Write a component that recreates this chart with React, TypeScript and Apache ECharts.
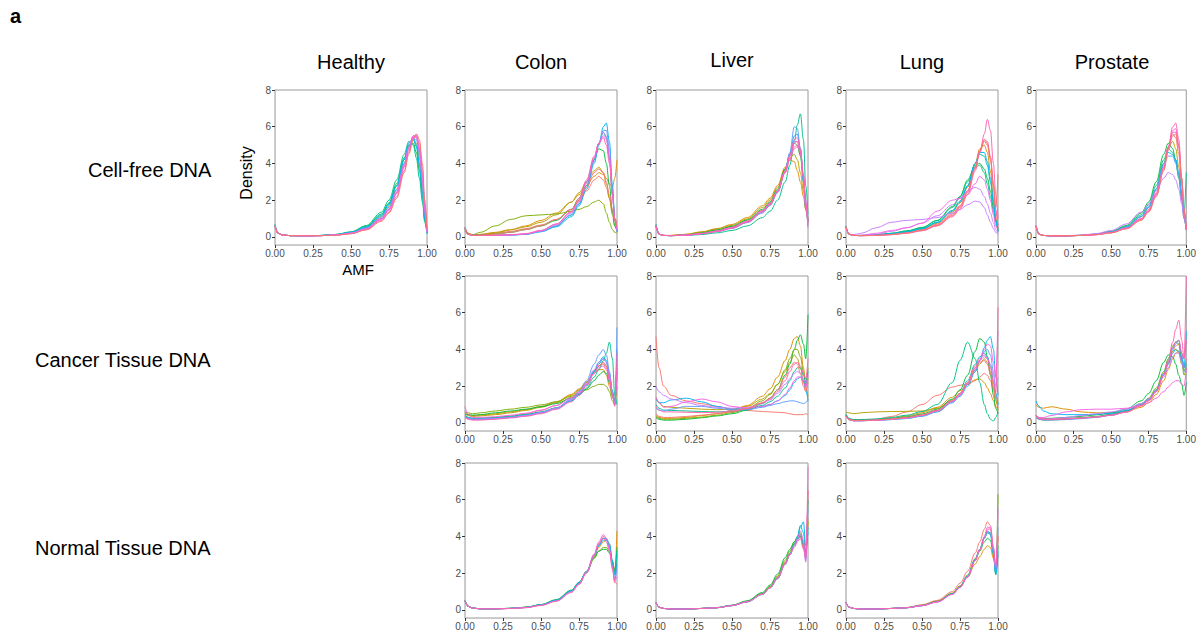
import React, { useEffect, useRef } from "react";
import * as echarts from "echarts";

// Shared AMF grid for all density curves
const AMF = [0, 0.02, 0.05, 0.1, 0.2, 0.3, 0.4, 0.5, 0.6, 0.7, 0.75, 0.8, 0.85, 0.88, 0.91, 0.93, 0.95, 0.97, 0.985, 1.0];

const COLUMNS = ["Healthy", "Colon", "Liver", "Lung", "Prostate"];
const ROWS = ["Cell-free DNA", "Cancer Tissue DNA", "Normal Tissue DNA"];
const X_TICKS = [0, 0.25, 0.5, 0.75, 1];
const Y_TICKS = [0, 2, 4, 6, 8];

// Row 1: cell-free DNA
const healthyCfDNA = [
  [0.55,0.2,0.1,0.07,0.06,0.07,0.1,0.2,0.45,1.0,1.5,2.4,3.8,4.7,5.4,5.5,4.8,3.2,1.5,0.3],
  [0.6,0.2,0.1,0.07,0.06,0.07,0.11,0.22,0.5,1.1,1.65,2.6,4.0,4.9,5.3,5.1,4.3,2.8,1.2,0.3],
  [0.6,0.2,0.1,0.07,0.06,0.08,0.13,0.26,0.58,1.25,1.85,2.9,4.3,5.0,5.1,4.6,3.6,2.2,0.9,0.2],
  [0.7,0.2,0.1,0.07,0.06,0.08,0.14,0.28,0.62,1.35,2.0,3.1,4.5,5.2,5.0,4.3,3.2,1.9,0.8,0.2],
  [0.65,0.2,0.1,0.07,0.06,0.08,0.13,0.25,0.55,1.2,1.8,2.8,4.2,5.0,5.3,4.9,3.9,2.4,1.0,0.2],
  [0.6,0.2,0.1,0.07,0.06,0.07,0.12,0.24,0.52,1.15,1.75,2.75,4.2,5.1,5.4,5.0,4.0,2.5,1.0,0.2],
  [0.6,0.2,0.1,0.07,0.06,0.07,0.11,0.22,0.48,1.05,1.6,2.55,4.0,4.9,5.4,5.3,4.5,2.9,1.2,0.2],
  [0.6,0.2,0.1,0.07,0.06,0.07,0.1,0.2,0.45,1.0,1.5,2.45,3.9,4.9,5.5,5.4,4.7,3.1,1.4,0.3],
  [0.6,0.2,0.1,0.07,0.06,0.07,0.1,0.19,0.42,0.95,1.45,2.35,3.8,4.8,5.5,5.5,4.9,3.4,1.6,0.3],
  [0.6,0.2,0.1,0.07,0.06,0.07,0.1,0.18,0.4,0.9,1.35,2.2,3.6,4.6,5.4,5.6,5.1,3.7,1.8,0.4],
  [0.6,0.2,0.1,0.07,0.06,0.07,0.1,0.2,0.44,0.98,1.5,2.4,3.85,4.85,5.5,5.45,4.8,3.3,1.5,0.3],
  [0.6,0.2,0.1,0.07,0.06,0.07,0.09,0.17,0.38,0.85,1.3,2.1,3.5,4.5,5.3,5.6,5.3,4.0,2.0,0.4],
];
const colonCfDNA = [
  [0.5,0.2,0.1,0.12,0.2,0.3,0.45,0.65,0.95,1.5,1.95,2.5,3.1,3.3,3.1,2.7,2.1,1.4,1.0,0.8],
  [0.4,0.2,0.12,0.14,0.25,0.4,0.6,0.9,1.3,1.9,2.3,2.8,3.3,3.5,3.4,3.2,2.9,2.7,3.2,4.2],
  [0.4,0.2,0.1,0.13,0.22,0.38,0.55,0.8,1.2,1.9,2.4,3.0,3.6,3.8,3.5,2.9,2.1,1.2,0.6,0.3],
  [0.3,0.15,0.12,0.25,0.6,0.95,1.15,1.2,1.25,1.4,1.5,1.65,1.9,2.0,1.8,1.3,0.8,0.4,0.25,0.2],
  [0.4,0.15,0.1,0.1,0.15,0.25,0.4,0.6,0.9,1.5,2.1,3.0,4.2,4.8,4.7,4.0,2.8,1.4,0.6,0.3],
  [0.5,0.15,0.08,0.08,0.08,0.1,0.15,0.3,0.6,1.2,1.8,2.8,4.2,5.1,5.7,5.4,4.3,2.4,1.0,0.3],
  [0.5,0.15,0.08,0.08,0.08,0.1,0.14,0.28,0.55,1.1,1.7,2.6,4.0,5.0,6.0,6.2,5.2,2.8,1.0,0.3],
  [0.5,0.15,0.08,0.08,0.08,0.1,0.15,0.3,0.6,1.2,1.8,2.7,4.1,5.0,5.8,5.8,4.8,2.6,1.0,0.3],
  [0.5,0.15,0.08,0.08,0.08,0.1,0.16,0.32,0.65,1.3,1.9,2.9,4.3,5.1,5.7,5.5,4.4,2.3,0.9,0.3],
  [0.5,0.15,0.08,0.08,0.09,0.11,0.17,0.34,0.7,1.35,2.0,3.0,4.3,5.1,5.5,5.3,4.3,2.3,0.9,0.4],
  [0.5,0.15,0.08,0.08,0.09,0.12,0.18,0.36,0.7,1.4,2.1,3.1,4.4,5.1,5.4,5.0,4.0,2.3,1.0,0.5],
  [0.5,0.15,0.1,0.1,0.15,0.25,0.4,0.6,0.95,1.5,2.0,2.7,3.5,3.7,3.5,3.0,2.3,1.5,0.9,0.6],
];
const liverCfDNA = [
  [0.6,0.15,0.08,0.07,0.1,0.2,0.35,0.55,0.9,1.45,1.85,2.5,3.5,4.2,4.8,4.9,4.5,3.2,1.8,0.8],
  [0.6,0.15,0.08,0.08,0.15,0.28,0.45,0.68,1.05,1.7,2.1,2.8,3.8,4.2,4.1,3.6,3.0,2.2,1.5,1.0],
  [0.6,0.15,0.08,0.08,0.14,0.26,0.42,0.63,0.98,1.6,2.0,2.7,3.7,4.3,4.5,4.2,3.5,2.5,1.5,0.8],
  [0.6,0.15,0.08,0.07,0.11,0.22,0.38,0.58,0.92,1.5,1.9,2.6,3.7,4.5,5.1,5.0,4.4,3.0,1.7,0.9],
  [0.7,0.15,0.08,0.07,0.08,0.13,0.22,0.35,0.6,1.05,1.4,2.0,3.0,3.9,5.2,6.1,6.7,5.3,2.8,1.2],
  [0.6,0.15,0.08,0.07,0.09,0.17,0.3,0.48,0.8,1.35,1.75,2.45,3.6,4.5,5.5,5.6,4.8,3.2,1.7,0.8],
  [0.6,0.15,0.08,0.07,0.09,0.17,0.29,0.46,0.78,1.3,1.7,2.4,3.6,4.6,6.0,5.9,4.8,3.0,1.5,0.6],
  [0.6,0.15,0.08,0.07,0.1,0.18,0.31,0.5,0.82,1.4,1.8,2.5,3.6,4.4,5.2,5.2,4.6,3.2,1.8,0.8],
  [0.6,0.15,0.08,0.07,0.1,0.19,0.32,0.52,0.85,1.42,1.82,2.5,3.5,4.2,4.9,5.0,4.6,3.4,2.0,0.9],
  [0.6,0.15,0.08,0.07,0.1,0.18,0.31,0.5,0.83,1.4,1.8,2.5,3.6,4.4,5.1,5.2,4.7,3.3,1.8,0.7],
  [0.6,0.15,0.08,0.07,0.09,0.17,0.29,0.47,0.8,1.35,1.75,2.45,3.55,4.4,5.3,5.4,4.8,3.3,1.7,0.5],
];
const lungCfDNA = [
  [0.55,0.15,0.08,0.07,0.09,0.15,0.25,0.4,0.7,1.25,1.7,2.5,3.8,4.6,5.2,5.0,4.2,2.8,1.4,0.5],
  [0.55,0.15,0.08,0.07,0.09,0.16,0.27,0.43,0.75,1.35,1.85,2.7,4.0,4.8,5.0,4.6,3.6,2.2,1.0,0.4],
  [0.55,0.15,0.08,0.08,0.12,0.2,0.33,0.52,0.9,1.65,2.2,3.1,3.9,4.0,3.7,3.2,2.5,1.6,0.9,0.4],
  [0.6,0.15,0.08,0.08,0.12,0.2,0.32,0.5,0.88,1.6,2.15,3.0,3.8,3.9,3.5,2.9,2.2,1.4,0.8,0.3],
  [0.55,0.15,0.08,0.07,0.1,0.17,0.28,0.45,0.8,1.45,1.95,2.8,4.0,4.5,4.4,3.9,3.0,1.8,0.9,0.3],
  [0.55,0.15,0.08,0.07,0.1,0.17,0.28,0.45,0.78,1.4,1.9,2.75,4.0,4.6,4.6,4.1,3.2,2.0,0.9,0.3],
  [0.5,0.15,0.12,0.2,0.5,0.8,0.9,0.95,1.05,1.3,1.5,1.75,1.95,1.9,1.6,1.2,0.8,0.45,0.25,0.15],
  [0.5,0.15,0.08,0.08,0.15,0.3,0.5,0.75,1.15,1.75,2.1,2.5,2.7,2.6,2.2,1.8,1.3,0.8,0.4,0.2],
  [0.5,0.15,0.08,0.09,0.2,0.35,0.5,0.75,1.4,2.0,2.1,2.3,2.9,3.3,3.1,2.6,2.0,1.2,0.6,0.3],
  [0.55,0.15,0.08,0.07,0.08,0.13,0.22,0.36,0.65,1.2,1.65,2.5,3.8,4.7,5.3,5.2,4.4,2.9,1.5,0.6],
  [0.55,0.15,0.08,0.07,0.08,0.12,0.2,0.33,0.6,1.1,1.5,2.3,3.6,4.6,5.6,6.4,5.8,4.0,2.3,1.0],
  [0.55,0.15,0.08,0.07,0.08,0.13,0.21,0.35,0.63,1.15,1.6,2.4,3.7,4.7,5.3,5.1,4.3,2.8,1.6,3.4],
];
const prostateCfDNA = [
  [0.6,0.15,0.08,0.06,0.06,0.08,0.13,0.25,0.5,1.0,1.5,2.4,3.8,4.8,5.6,5.4,4.5,2.8,1.3,0.4],
  [0.6,0.15,0.08,0.06,0.06,0.08,0.14,0.27,0.55,1.1,1.6,2.6,4.0,4.9,5.2,4.8,3.8,2.3,1.1,0.4],
  [0.6,0.15,0.08,0.06,0.06,0.09,0.16,0.3,0.62,1.3,1.9,3.0,4.5,5.1,4.8,4.1,3.2,2.0,1.0,0.4],
  [0.6,0.15,0.08,0.06,0.06,0.09,0.15,0.28,0.58,1.2,1.75,2.8,4.2,4.8,4.6,4.2,3.4,2.2,1.2,3.5],
  [0.6,0.15,0.08,0.06,0.06,0.08,0.14,0.26,0.53,1.1,1.6,2.6,4.0,4.6,4.5,4.2,3.5,2.4,1.2,0.4],
  [0.6,0.15,0.08,0.06,0.06,0.08,0.14,0.27,0.55,1.12,1.65,2.6,3.9,4.4,4.4,4.0,3.3,2.2,1.1,0.4],
  [0.6,0.15,0.08,0.06,0.07,0.1,0.18,0.35,0.7,1.35,1.8,2.5,3.2,3.5,3.4,3.1,2.6,1.8,1.0,0.4],
  [0.6,0.15,0.08,0.06,0.06,0.08,0.13,0.24,0.48,0.98,1.45,2.35,3.8,4.9,5.8,5.9,5.0,3.0,1.4,0.4],
  [0.6,0.15,0.08,0.06,0.06,0.08,0.12,0.22,0.45,0.92,1.38,2.25,3.7,4.9,6.0,6.2,5.3,3.2,1.5,0.4],
  [0.6,0.15,0.08,0.06,0.06,0.08,0.12,0.23,0.46,0.95,1.4,2.3,3.7,4.8,5.7,5.7,4.9,3.1,1.4,0.4],
  [0.6,0.15,0.08,0.06,0.06,0.08,0.12,0.22,0.44,0.9,1.35,2.2,3.6,4.7,5.5,5.6,4.9,3.2,1.5,0.4],
];

// Row 2: cancer tissue DNA
const colonCancer = [
  [0.4,0.3,0.25,0.25,0.3,0.38,0.5,0.68,0.95,1.4,1.75,2.2,2.8,3.1,3.2,3.0,2.4,1.6,1.1,3.0],
  [0.6,0.45,0.4,0.42,0.5,0.6,0.72,0.9,1.15,1.55,1.85,2.25,2.7,2.9,2.9,2.6,2.0,1.4,1.2,2.5],
  [0.5,0.4,0.35,0.38,0.45,0.55,0.68,0.85,1.1,1.5,1.8,2.2,2.8,3.1,3.3,3.1,2.5,1.7,1.2,3.5],
  [0.6,0.55,0.5,0.55,0.65,0.75,0.85,0.98,1.15,1.45,1.6,1.8,2.0,2.1,2.1,2.0,1.7,1.2,1.0,2.0],
  [0.5,0.45,0.42,0.45,0.55,0.65,0.75,0.88,1.05,1.35,1.55,1.85,2.3,2.6,2.8,2.7,2.2,1.5,1.1,2.8],
  [0.4,0.3,0.25,0.26,0.3,0.37,0.46,0.6,0.82,1.2,1.5,1.9,2.5,2.9,3.4,3.8,4.4,3.5,1.5,1.0],
  [0.4,0.3,0.22,0.22,0.26,0.33,0.43,0.58,0.82,1.25,1.6,2.1,2.8,3.2,3.5,3.3,2.6,1.6,1.0,4.0],
  [0.35,0.25,0.2,0.2,0.24,0.3,0.4,0.55,0.78,1.2,1.55,2.05,2.8,3.3,3.6,3.4,2.7,1.7,1.1,3.2],
  [0.3,0.22,0.18,0.18,0.22,0.29,0.38,0.54,0.8,1.3,1.7,2.3,3.2,3.7,4.0,3.7,2.8,1.6,1.0,5.2],
  [0.35,0.25,0.2,0.2,0.23,0.3,0.4,0.56,0.8,1.25,1.6,2.15,2.9,3.3,3.5,3.3,2.6,1.6,1.1,3.0],
  [0.9,0.45,0.3,0.3,0.34,0.42,0.53,0.7,0.95,1.35,1.65,2.1,2.7,3.0,3.1,2.9,2.3,1.5,1.0,2.5],
  [0.3,0.2,0.15,0.15,0.2,0.27,0.36,0.5,0.74,1.15,1.5,2.0,2.7,3.1,3.3,3.1,2.4,1.5,0.9,3.8],
];
const liverCancer = [
  [4.7,3.0,2.0,1.5,1.2,1.05,0.9,0.75,0.68,0.62,0.6,0.58,0.55,0.5,0.45,0.45,0.45,0.45,0.5,0.45],
  [0.4,0.3,0.25,0.25,0.3,0.4,0.5,0.68,0.95,1.45,1.85,2.5,3.4,4.0,4.6,4.7,4.2,3.0,2.0,1.4],
  [1.4,1.1,0.9,0.85,0.8,0.75,0.72,0.75,0.9,1.3,1.6,2.1,2.8,3.3,3.7,3.5,3.0,2.3,2.0,2.4],
  [0.3,0.2,0.15,0.15,0.2,0.28,0.38,0.5,0.7,1.05,1.35,1.8,2.6,3.2,4.0,4.5,4.8,4.3,3.5,5.9],
  [0.35,0.25,0.2,0.2,0.25,0.32,0.42,0.56,0.78,1.2,1.55,2.1,2.9,3.5,4.0,4.0,3.6,2.8,2.2,3.0],
  [1.0,0.8,0.7,0.68,0.65,0.62,0.6,0.62,0.72,0.95,1.15,1.45,1.9,2.3,2.8,3.0,3.0,2.6,2.1,2.8],
  [1.3,1.1,1.1,1.25,1.35,1.15,0.9,0.75,0.78,0.9,1.0,1.2,1.5,1.8,2.2,2.4,2.5,2.3,1.8,1.2],
  [0.8,0.7,0.65,0.75,0.9,0.9,0.8,0.7,0.72,0.85,0.95,1.05,1.15,1.2,1.2,1.15,1.1,1.05,1.1,1.3],
  [2.0,1.7,1.5,1.3,1.1,0.95,0.85,0.8,0.85,1.05,1.25,1.6,2.1,2.4,2.7,2.8,2.7,2.4,2.2,2.5],
  [1.4,1.1,0.85,0.9,1.15,1.3,1.15,0.9,0.8,0.9,1.0,1.2,1.55,1.9,2.3,2.5,2.5,2.2,1.9,2.6],
  [0.9,0.7,0.6,0.6,0.58,0.56,0.58,0.65,0.8,1.1,1.3,1.7,2.3,2.8,3.2,3.3,3.1,2.7,2.4,3.5],
  [0.5,0.35,0.3,0.3,0.35,0.42,0.5,0.6,0.78,1.1,1.35,1.8,2.5,3.0,3.3,3.2,2.7,2.0,1.7,2.2],
];
const lungCancer = [
  [0.4,0.2,0.15,0.15,0.2,0.35,0.6,1.0,1.5,1.95,2.05,2.1,2.3,2.5,2.7,2.6,2.3,1.8,1.2,0.8],
  [0.4,0.2,0.15,0.15,0.18,0.25,0.38,0.55,0.85,1.4,1.75,2.1,2.35,2.4,2.2,1.9,1.6,1.2,0.9,0.7],
  [0.6,0.55,0.5,0.55,0.6,0.62,0.63,0.65,0.8,1.25,1.6,2.1,2.8,3.2,3.5,3.3,2.8,2.0,1.3,0.7],
  [0.5,0.25,0.18,0.18,0.22,0.3,0.42,0.62,1.0,2.2,3.4,4.4,3.5,2.2,1.0,0.5,0.2,0.1,0.3,0.6],
  [0.4,0.2,0.15,0.15,0.18,0.24,0.33,0.48,0.75,1.3,1.8,2.6,3.9,4.6,4.4,3.6,2.6,1.5,0.8,0.5],
  [0.4,0.2,0.15,0.15,0.17,0.22,0.3,0.43,0.68,1.2,1.6,2.3,3.2,3.6,3.8,3.6,3.1,2.3,1.6,1.0],
  [0.35,0.18,0.12,0.12,0.14,0.18,0.24,0.36,0.6,1.1,1.45,2.0,2.8,3.4,4.1,4.5,4.7,4.0,2.5,1.5],
  [0.35,0.18,0.12,0.12,0.14,0.19,0.26,0.38,0.62,1.12,1.5,2.1,2.9,3.4,3.9,4.0,3.7,2.8,1.6,1.0],
  [0.35,0.18,0.12,0.12,0.15,0.2,0.28,0.41,0.66,1.18,1.55,2.15,3.0,3.4,3.6,3.5,3.2,2.6,2.0,2.5],
  [0.35,0.18,0.12,0.12,0.15,0.2,0.27,0.4,0.65,1.15,1.5,2.1,2.9,3.4,4.0,4.3,4.2,3.3,2.5,5.0],
  [0.35,0.18,0.12,0.12,0.15,0.2,0.28,0.41,0.67,1.2,1.6,2.2,3.1,3.5,3.7,3.5,3.0,2.2,1.6,6.3],
  [0.4,0.2,0.14,0.14,0.16,0.22,0.3,0.44,0.7,1.22,1.6,2.2,3.0,3.3,3.4,3.2,2.7,1.9,1.4,1.2],
];
const prostateCancer = [
  [0.4,0.25,0.2,0.2,0.22,0.26,0.32,0.42,0.6,0.95,1.25,1.75,2.6,3.2,3.9,4.2,4.3,3.5,3.0,3.5],
  [1.0,0.85,0.8,0.88,0.75,0.6,0.55,0.55,0.62,0.85,1.1,1.55,2.3,2.9,3.5,3.8,3.9,3.4,3.0,3.3],
  [0.35,0.25,0.2,0.2,0.22,0.27,0.34,0.45,0.64,1.0,1.3,1.8,2.7,3.3,3.9,4.0,3.8,3.2,2.9,3.0],
  [0.4,0.3,0.25,0.25,0.3,0.36,0.44,0.55,0.75,1.2,1.6,2.3,3.3,3.7,3.6,3.2,2.6,2.1,1.5,2.2],
  [0.3,0.2,0.15,0.16,0.2,0.26,0.34,0.46,0.66,1.05,1.35,1.9,2.8,3.5,4.2,4.4,4.3,3.3,2.6,3.0],
  [0.35,0.25,0.2,0.2,0.23,0.28,0.35,0.46,0.65,1.02,1.3,1.8,2.7,3.4,4.1,4.4,4.5,3.6,2.8,3.2],
  [1.2,0.9,0.65,0.5,0.45,0.45,0.47,0.52,0.68,1.0,1.28,1.75,2.6,3.2,3.8,4.0,3.9,3.5,3.0,5.0],
  [0.3,0.2,0.15,0.15,0.18,0.23,0.3,0.41,0.6,0.98,1.28,1.78,2.7,3.3,4.0,4.3,4.5,3.8,3.0,3.3],
  [0.35,0.25,0.2,0.22,0.3,0.4,0.5,0.6,0.75,1.05,1.3,1.75,2.5,3.0,3.6,3.8,3.8,3.3,2.8,2.9],
  [0.4,0.3,0.3,0.4,0.6,0.72,0.75,0.75,0.8,0.95,1.1,1.35,1.7,1.95,2.2,2.3,2.3,2.1,2.0,3.0],
  [0.4,0.25,0.2,0.2,0.22,0.26,0.32,0.42,0.58,0.92,1.2,1.7,2.6,3.4,4.4,5.1,5.6,4.5,3.5,4.5],
  [0.4,0.25,0.2,0.2,0.22,0.27,0.33,0.43,0.6,0.95,1.22,1.7,2.6,3.3,4.1,4.4,4.5,3.8,3.5,8.0],
];

// Row 3: normal tissue DNA
const colonNormal = [
  [0.5,0.2,0.1,0.06,0.06,0.08,0.13,0.26,0.5,1.0,1.45,2.1,3.0,3.6,4.0,3.9,3.4,2.4,1.5,3.0],
  [0.5,0.2,0.1,0.06,0.06,0.08,0.14,0.27,0.52,1.02,1.45,2.05,2.9,3.4,3.7,3.8,3.6,2.6,2.0,4.3],
  [0.5,0.2,0.1,0.06,0.06,0.09,0.15,0.28,0.55,1.05,1.48,2.05,2.8,3.2,3.4,3.4,3.2,2.6,2.2,3.0],
  [0.5,0.2,0.1,0.06,0.06,0.09,0.15,0.29,0.56,1.08,1.5,2.1,2.85,3.2,3.3,3.3,3.1,2.6,2.1,3.4],
  [0.5,0.2,0.1,0.06,0.06,0.09,0.14,0.28,0.54,1.05,1.5,2.1,2.95,3.5,3.8,3.8,3.5,2.6,1.9,3.2],
  [0.5,0.2,0.1,0.06,0.06,0.08,0.14,0.27,0.52,1.02,1.45,2.05,2.95,3.5,3.9,3.9,3.6,2.7,1.9,2.5],
  [0.5,0.2,0.1,0.06,0.06,0.08,0.13,0.26,0.5,1.0,1.42,2.05,2.95,3.55,3.9,3.8,3.4,2.4,1.7,2.2],
  [0.5,0.2,0.1,0.06,0.06,0.08,0.13,0.25,0.48,0.98,1.42,2.08,3.05,3.7,4.1,3.9,3.3,2.3,1.6,1.8],
  [0.5,0.2,0.1,0.06,0.06,0.08,0.12,0.24,0.47,0.95,1.38,2.0,2.95,3.6,3.9,3.7,3.2,2.2,1.5,1.4],
];
const liverNormal = [
  [0.4,0.15,0.08,0.05,0.05,0.08,0.12,0.24,0.45,0.85,1.2,1.7,2.5,3.0,3.5,3.8,4.0,3.6,3.0,6.5],
  [0.4,0.15,0.08,0.05,0.05,0.08,0.12,0.24,0.46,0.88,1.25,1.8,2.6,3.1,3.6,3.9,4.1,3.4,2.8,5.0],
  [0.4,0.15,0.08,0.05,0.05,0.08,0.12,0.25,0.47,0.9,1.28,1.85,2.7,3.2,3.7,4.0,4.2,3.6,3.2,4.8],
  [0.4,0.15,0.08,0.05,0.05,0.08,0.13,0.26,0.5,0.95,1.35,1.95,2.85,3.3,3.7,3.9,4.0,3.5,3.0,6.0],
  [0.4,0.15,0.08,0.05,0.05,0.08,0.12,0.24,0.45,0.86,1.22,1.75,2.55,3.05,3.6,4.0,4.6,4.2,3.0,4.5],
  [0.4,0.15,0.08,0.05,0.05,0.08,0.12,0.23,0.44,0.84,1.2,1.7,2.5,3.0,3.5,3.9,4.5,4.8,3.5,4.2],
  [0.4,0.15,0.08,0.05,0.05,0.08,0.12,0.23,0.44,0.84,1.2,1.72,2.5,3.0,3.5,3.8,4.1,3.6,2.7,5.5],
  [0.4,0.15,0.08,0.05,0.05,0.08,0.12,0.24,0.45,0.86,1.22,1.75,2.55,3.0,3.5,3.9,4.3,3.8,2.6,7.8],
  [0.4,0.15,0.08,0.05,0.05,0.08,0.12,0.23,0.44,0.85,1.2,1.72,2.5,3.0,3.4,3.7,3.9,3.3,2.9,6.5],
];
const lungNormal = [
  [0.4,0.15,0.08,0.05,0.05,0.08,0.13,0.28,0.52,1.0,1.45,2.1,3.1,3.7,4.4,4.8,4.6,3.4,2.2,3.0],
  [0.4,0.15,0.08,0.05,0.05,0.08,0.13,0.26,0.48,0.92,1.3,1.8,2.5,2.9,3.3,3.5,3.4,2.8,2.3,4.0],
  [0.4,0.15,0.08,0.05,0.05,0.08,0.12,0.25,0.47,0.9,1.3,1.9,2.8,3.3,3.9,4.2,4.2,3.2,2.0,6.3],
  [0.4,0.15,0.08,0.05,0.05,0.08,0.12,0.24,0.45,0.88,1.26,1.82,2.7,3.2,3.7,3.9,3.8,3.0,2.0,3.5],
  [0.4,0.15,0.08,0.05,0.05,0.08,0.12,0.24,0.45,0.88,1.27,1.85,2.75,3.3,3.9,4.2,4.1,3.1,1.9,3.0],
  [0.4,0.15,0.08,0.05,0.05,0.08,0.12,0.23,0.44,0.86,1.25,1.83,2.75,3.3,3.95,4.3,4.2,3.2,2.0,3.2],
  [0.4,0.15,0.08,0.05,0.05,0.08,0.12,0.23,0.44,0.86,1.25,1.82,2.72,3.3,3.9,4.25,4.15,3.1,2.1,4.5],
  [0.4,0.15,0.08,0.05,0.05,0.08,0.12,0.23,0.43,0.85,1.23,1.8,2.7,3.3,4.0,4.5,4.5,3.4,2.3,5.5],
  [0.4,0.15,0.08,0.05,0.05,0.08,0.12,0.23,0.43,0.84,1.22,1.78,2.68,3.25,3.9,4.4,4.4,3.3,2.4,4.0],
];

const PANELS = [
  { row: 0, col: 0, curves: healthyCfDNA },
  { row: 0, col: 1, curves: colonCfDNA },
  { row: 0, col: 2, curves: liverCfDNA },
  { row: 0, col: 3, curves: lungCfDNA },
  { row: 0, col: 4, curves: prostateCfDNA },
  { row: 1, col: 1, curves: colonCancer },
  { row: 1, col: 2, curves: liverCancer },
  { row: 1, col: 3, curves: lungCancer },
  { row: 1, col: 4, curves: prostateCancer },
  { row: 2, col: 1, curves: colonNormal },
  { row: 2, col: 2, curves: liverNormal },
  { row: 2, col: 3, curves: lungNormal },
];

// ggplot2 hue palette (style)
const HUE = ["#F8766D", "#DE8C00", "#B79F00", "#7CAE00", "#00BA38", "#00C08B", "#00BFC4", "#00B4F0", "#619CFF", "#C77CFF", "#F564E3", "#FF64B0"];
// palette index per curve, per panel (style only; null = spread evenly)
const COLOR_ORDER: (number[] | null)[] = [
  [0, 2, 4, 5, 6, 7, 8, 9, 10, 11, 10, 0],
  [0, 1, 2, 3, 4, 5, 7, 8, 9, 10, 11, 0],
  [0, 1, 2, 4, 5, 7, 8, 9, 10, 11, 11],
  [0, 1, 4, 5, 6, 7, 9, 9, 10, 11, 11, 0],
  [0, 2, 4, 5, 7, 8, 9, 10, 11, 11, 0],
  null,
  [0, 1, 2, 4, 3, 5, 7, 8, 9, 10, 11, 0],
  [0, 1, 2, 5, 4, 6, 7, 8, 9, 10, 11, 0],
  [0, 1, 2, 4, 3, 5, 7, 8, 9, 10, 11, 11],
  null,
  null,
  null,
];

const COL_LEFT = [275, 465, 656, 846, 1036];
const ROW_TOP = [90, 276, 463];
const PW = 152;
const PH = 155;
const FONT = "Liberation Sans, Arial, sans-serif";
const LABEL_COLOR = "#4d4d4d";

export default function App() {
  const ref = useRef<HTMLDivElement>(null);
  useEffect(() => {
    document.body.style.margin = "0";
    const chart = echarts.init(ref.current!, null, { renderer: "svg" });
    const grids: any[] = [];
    const xAxes: any[] = [];
    const yAxes: any[] = [];
    const series: any[] = [];
    PANELS.forEach((p, i) => {
      grids.push({
        left: COL_LEFT[p.col], top: ROW_TOP[p.row], width: PW, height: PH,
        show: true, borderColor: "#9a9a9a", borderWidth: 1, backgroundColor: "#fff",
      });
      xAxes.push({
        type: "value", gridIndex: i, min: 0, max: 1, interval: 0.25,
        axisLine: { show: true, onZero: false, lineStyle: { color: "#c8c8c8" } },
        axisTick: { show: true, length: 3, customValues: X_TICKS, lineStyle: { color: "#333" } },
        axisLabel: {
          show: true, fontSize: 10, color: LABEL_COLOR, margin: 3, fontFamily: FONT,
          customValues: X_TICKS, formatter: (v: number) => v.toFixed(2),
        },
        splitLine: { show: false },
      });
      yAxes.push({
        type: "value", gridIndex: i, min: -0.44, max: 8,
        axisLine: { show: true, onZero: false, lineStyle: { color: "#c8c8c8" } },
        axisTick: { show: true, length: 3, customValues: Y_TICKS, lineStyle: { color: "#333" } },
        axisLabel: { fontSize: 10, color: LABEL_COLOR, margin: 4, fontFamily: FONT, customValues: Y_TICKS, formatter: (v: number) => String(v) },
        splitLine: { show: false },
      });
      const n = p.curves.length;
      const order = COLOR_ORDER[i];
      p.curves.forEach((ys, k) => {
        const ci = order ? order[k] : Math.round((k * (HUE.length - 1)) / Math.max(1, n - 1));
        series.push({
          type: "line", xAxisIndex: i, yAxisIndex: i,
          data: ys.map((y, j) => [AMF[j], y]),
          showSymbol: false, smooth: 0.35, smoothMonotone: "x",
          lineStyle: { width: 1, color: HUE[ci], opacity: 0.95 },
          silent: true, clip: true,
        });
      });
    });
    const texts: any[] = [
      { type: "text", left: 10, top: 6, style: { text: "a", font: `bold 20px ${FONT}`, fill: "#000" } },
    ];
    COLUMNS.forEach((c, ci) => {
      texts.push({ type: "text", x: COL_LEFT[ci] + PW / 2, y: ci === 2 ? 60 : 62, style: { text: c, font: `20px ${FONT}`, fill: "#000", align: "center", verticalAlign: "middle" } });
    });
    const rowX = [88, 35, 35];
    const rowY = [170, 360, 548];
    ROWS.forEach((r, ri) => {
      texts.push({ type: "text", x: rowX[ri], y: rowY[ri], style: { text: r, font: `20px ${FONT}`, fill: "#000", align: "left", verticalAlign: "middle" } });
    });
    texts.push({ type: "text", x: 246, y: 173, rotation: Math.PI / 2, style: { text: "Density", font: `16px ${FONT}`, fill: "#000", align: "center", verticalAlign: "middle" } });
    texts.push({ type: "text", x: 358, y: 269, style: { text: "AMF", font: `15px ${FONT}`, fill: "#000", align: "center", verticalAlign: "middle" } });

    chart.setOption({
      animation: false,
      backgroundColor: "#fff",
      textStyle: { color: LABEL_COLOR, fontFamily: FONT },
      grid: grids,
      xAxis: xAxes,
      yAxis: yAxes,
      series,
      graphic: texts,
    });
    return () => chart.dispose();
  }, []);
  return <div ref={ref} style={{ width: 1199, height: 635 }} />;
}
